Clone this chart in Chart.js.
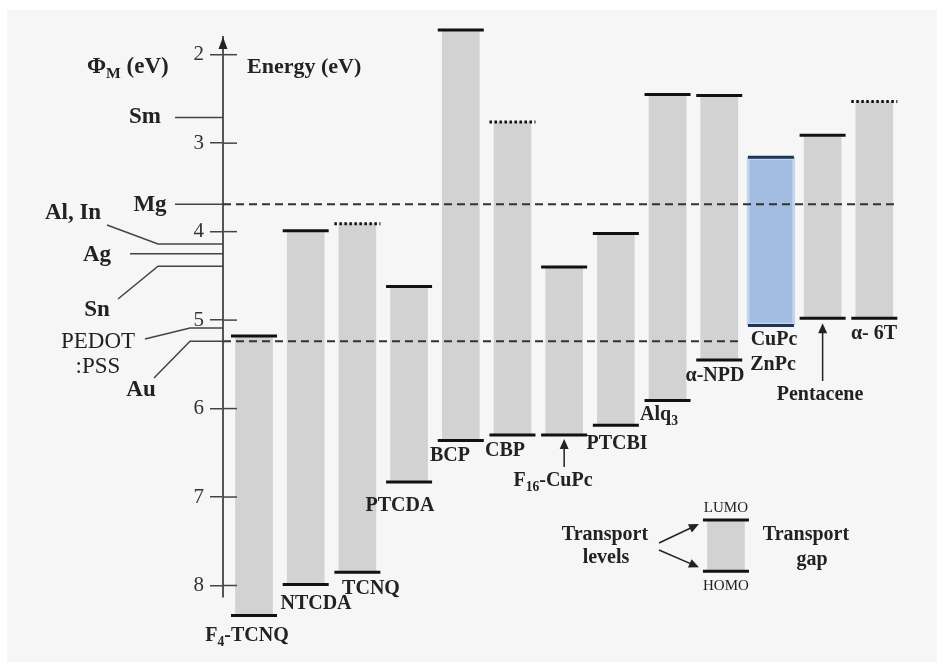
<!DOCTYPE html>
<html>
<head>
<meta charset="utf-8">
<script src="https://cdn.jsdelivr.net/npm/chart.js@4.4.0/dist/chart.umd.min.js"></script>
<style>
html, body { margin: 0; padding: 0; background: #fff; }
#wrap { width: 937px; height: 662px; position: relative; }
</style>
</head>
<body>
<div id="wrap"><canvas id="levels" width="937" height="662"></canvas></div>
<script>
// transport levels of the organic materials (eV below vacuum)
const materials = ['F4-TCNQ', 'NTCDA', 'TCNQ', 'PTCDA', 'BCP', 'CBP', 'F16-CuPc', 'PTCBI', 'Alq3', 'α-NPD', 'CuPc', 'Pentacene', 'α-6T'];
const lumo = [5.18, 3.99, 3.91, 4.62, 1.72, 2.76, 4.40, 4.02, 2.45, 2.46, 3.16, 2.91, 2.53];
const homo = [8.34, 7.99, 7.85, 6.83, 6.36, 6.30, 6.30, 6.19, 5.91, 5.45, 5.06, 4.98, 4.98];
const lumoDotted = [false, false, true, false, false, true, false, false, false, false, false, false, true];
const highlighted = 'CuPc';

// metal / electrode work functions
const metals = ['Sm', 'Mg', 'Al, In', 'Ag', 'Sn', 'PEDOT:PSS', 'Au'];
const workFunction = [2.71, 3.69, 4.14, 4.25, 4.39, 5.09, 5.24];
const dashedMetals = ['Mg', 'Au'];

const yTicks = [2, 3, 4, 5, 6, 7, 8];

// the little LUMO/HOMO key
const keyPos = 9.13;
const keyLevels = [7.26, 7.84];

const FONT = '"Liberation Serif", "Times New Roman", serif';
const INK = '#222';
const HALF = 0.445; // half width of a level line, in x units

// ---- datasets ----
const datasets = [];

// gray gaps
const grayBars = [];
materials.forEach((m, i) => {
    if (m !== highlighted) grayBars.push({x: i, y: [lumo[i], homo[i]]});
});
grayBars.push({x: keyPos, y: [keyLevels[0], keyLevels[1]]});
datasets.push({
    type: 'bar', data: grayBars, backgroundColor: '#d2d2d2',
    barThickness: 37, grouped: false, borderWidth: 0, clip: false, order: 2
});

// blue highlighted one
const hi = materials.indexOf(highlighted);
datasets.push({
    type: 'bar', data: [{x: hi, y: [lumo[hi], homo[hi]]}],
    backgroundColor: '#a3bde0', borderColor: '#c3d5ee', borderWidth: 3, borderSkipped: false,
    barThickness: 48, grouped: false, clip: false, order: 2
});

// level lines
function levelLine(x, e, dotted, color) {
    return {
        type: 'line', data: [{x: x - HALF, y: e}, {x: x + HALF, y: e}],
        borderColor: color, borderWidth: 3, borderDash: dotted ? [2.5, 2.5] : [],
        pointRadius: 0, fill: false, clip: false, order: 0
    };
}
materials.forEach((m, i) => {
    const c = m === highlighted ? '#1d3557' : '#111';
    datasets.push(levelLine(i, lumo[i], lumoDotted[i], c));
    datasets.push(levelLine(i, homo[i], false, c));
});
keyLevels.forEach(e => datasets.push(levelLine(keyPos, e, false, '#111')));

// dashed work-function references across the diagram
const dashEnd = {'Mg': 12.4, 'Au': 9.45};
dashedMetals.forEach(name => {
    const e = workFunction[metals.indexOf(name)];
    datasets.push({
        type: 'line', data: [{x: -0.6, y: e}, {x: dashEnd[name], y: e}],
        borderColor: '#333', borderWidth: 2, borderDash: [8, 5],
        pointRadius: 0, fill: false, clip: false, order: 0
    });
});

// text with optional subscripts: parts = [[text, isSub], ...]
function rich(ctx, parts, x, y, size, bold, align) {
    const f = s => (bold ? 'bold ' : '') + s + 'px ' + FONT;
    let w = 0;
    parts.forEach(p => { ctx.font = f(p[1] ? size * 0.68 : size); w += ctx.measureText(p[0]).width; });
    let cx = align === 'center' ? x - w / 2 : x;
    ctx.textAlign = 'left';
    ctx.textBaseline = 'middle';
    parts.forEach(p => {
        ctx.font = f(p[1] ? size * 0.68 : size);
        ctx.fillText(p[0], cx, y + (p[1] ? size * 0.32 : 0));
        cx += ctx.measureText(p[0]).width;
    });
}

function arrow(ctx, x1, y1, x2, y2) {
    const a = Math.atan2(y2 - y1, x2 - x1);
    ctx.beginPath();
    ctx.moveTo(x1, y1);
    ctx.lineTo(x2 - 8 * Math.cos(a), y2 - 8 * Math.sin(a));
    ctx.stroke();
    ctx.beginPath();
    ctx.moveTo(x2, y2);
    ctx.lineTo(x2 - 10 * Math.cos(a) + 4.5 * Math.sin(a), y2 - 10 * Math.sin(a) - 4.5 * Math.cos(a));
    ctx.lineTo(x2 - 10 * Math.cos(a) - 4.5 * Math.sin(a), y2 - 10 * Math.sin(a) + 4.5 * Math.cos(a));
    ctx.closePath();
    ctx.fill();
}

// material label placement (center x, middle y)
const labelSpots = {
    'F4-TCNQ': [[['F'], ['4', 1], ['-TCNQ']], 247, 636],
    'NTCDA': [[['NTCDA']], 316, 604],
    'TCNQ': [[['TCNQ']], 371, 589],
    'PTCDA': [[['PTCDA']], 400, 506],
    'BCP': [[['BCP']], 450, 456],
    'CBP': [[['CBP']], 505, 451],
    'F16-CuPc': [[['F'], ['16', 1], ['-CuPc']], 553, 481],
    'PTCBI': [[['PTCBI']], 617, 444],
    'Alq3': [[['Alq'], ['3', 1]], 659, 415],
    'α-NPD': [[['α-NPD']], 715, 376],
    'CuPc': [[['CuPc']], 774, 340],
    'Pentacene': [[['Pentacene']], 820, 395],
    'α-6T': [[['α- 6T']], 874, 334]
};

// electrode labels: [text lines, x, y, bold, line start x, leader start]
const metalSpots = {
    'Sm': [['Sm'], 145, 117, true, 175, null],
    'Mg': [['Mg'], 150, 205, true, 175, null],
    'Al, In': [['Al, In'], 73, 213, true, 158, [107, 225]],
    'Ag': [['Ag'], 97, 255, true, 130, null],
    'Sn': [['Sn'], 97, 310, true, 158, [118, 299]],
    'PEDOT:PSS': [['PEDOT', ':PSS'], 98, 342, false, 190, [145, 339]],
    'Au': [['Au'], 141, 390, true, 190, [154, 378]]
};

const annotate = {
    id: 'annotate',
    beforeDraw(chart) {
        const ctx = chart.ctx;
        ctx.save();
        ctx.fillStyle = '#fff';
        ctx.fillRect(0, 0, chart.width, chart.height);
        ctx.fillStyle = '#f6f6f6';
        ctx.fillRect(7, 10, chart.width - 7, chart.height - 10);
        ctx.restore();
    },
    afterDraw(chart) {
        const ctx = chart.ctx;
        const xs = chart.scales.x, ys = chart.scales.y;
        const axisX = chart.chartArea.left;
        ctx.save();
        ctx.strokeStyle = '#444';
        ctx.fillStyle = INK;
        ctx.lineWidth = 1.5;

        // inner half of the tick marks
        yTicks.forEach(v => {
            const y = ys.getPixelForValue(v);
            ctx.beginPath(); ctx.moveTo(axisX, y); ctx.lineTo(axisX + 14, y); ctx.stroke();
        });
        // arrow head on the energy axis
        const top = chart.chartArea.top;
        ctx.fillStyle = '#222';
        ctx.beginPath();
        ctx.moveTo(axisX, top);
        ctx.lineTo(axisX - 4.5, top + 12);
        ctx.lineTo(axisX + 4.5, top + 12);
        ctx.closePath();
        ctx.fill();

        // electrode levels and their labels
        ctx.fillStyle = INK;
        metals.forEach((m, i) => {
            const s = metalSpots[m];
            const y = ys.getPixelForValue(workFunction[i]);
            ctx.strokeStyle = '#444';
            ctx.lineWidth = 1.5;
            ctx.beginPath();
            if (s[5]) ctx.moveTo(s[5][0], s[5][1]), ctx.lineTo(s[4], y);
            else ctx.moveTo(s[4], y);
            ctx.lineTo(axisX, y);
            ctx.stroke();
            s[0].forEach((t, k) => rich(ctx, [[t]], s[1], s[2] + k * 25, 23, s[3], 'center'));
        });

        rich(ctx, [['Φ'], ['M', 1], [' (eV)']], 87, 67, 23, true, 'left');
        rich(ctx, [['Energy (eV)']], 247, 67, 22, true, 'left');

        // material labels
        materials.forEach(m => {
            const s = labelSpots[m];
            rich(ctx, s[0], s[1], s[2], 20, true, 'center');
        });
        rich(ctx, [['ZnPc']], 773, 365, 20, true, 'center');

        ctx.strokeStyle = '#222';
        ctx.fillStyle = '#222';
        ctx.lineWidth = 1.5;
        const fx = xs.getPixelForValue(materials.indexOf('F16-CuPc'));
        arrow(ctx, fx, 467, fx, ys.getPixelForValue(homo[6]) + 4);
        const px = xs.getPixelForValue(materials.indexOf('Pentacene'));
        arrow(ctx, px, 381, px, ys.getPixelForValue(homo[11]) + 5);

        // key
        ctx.fillStyle = INK;
        const kx = xs.getPixelForValue(keyPos);
        rich(ctx, [['LUMO']], kx, ys.getPixelForValue(keyLevels[0]) - 12, 15, false, 'center');
        rich(ctx, [['HOMO']], kx, ys.getPixelForValue(keyLevels[1]) + 15, 15, false, 'center');
        rich(ctx, [['Transport']], 605, 535, 20, true, 'center');
        rich(ctx, [['levels']], 606, 558, 20, true, 'center');
        rich(ctx, [['Transport']], 806, 535, 20, true, 'center');
        rich(ctx, [['gap']], 812, 560, 20, true, 'center');
        ctx.fillStyle = '#222';
        arrow(ctx, 659, 543, kx - 27, ys.getPixelForValue(keyLevels[0]) + 4);
        arrow(ctx, 659, 550, kx - 27, ys.getPixelForValue(keyLevels[1]) - 4);
        ctx.restore();
    }
};

new Chart(document.getElementById('levels'), {
    type: 'bar',
    data: {datasets: datasets},
    options: {
        responsive: false,
        animation: false,
        events: [],
        layout: {padding: {left: 183, right: 11, top: 37, bottom: 65}},
        plugins: {legend: {display: false}, tooltip: {enabled: false}},
        scales: {
            x: {type: 'linear', min: -0.6, max: 13, display: false, offset: false},
            y: {
                type: 'linear', reverse: true, min: 1.8, max: 8.13,
                afterBuildTicks: s => { s.ticks = yTicks.map(v => ({value: v})); },
                afterFit: s => { s.width = 40; },
                grid: {drawOnChartArea: false, tickLength: 13, color: '#444', lineWidth: 1.5},
                border: {color: '#555', width: 2},
                ticks: {font: {family: FONT, size: 21}, color: '#333', padding: 6}
            }
        }
    },
    plugins: [annotate]
});
</script>
</body>
</html>
